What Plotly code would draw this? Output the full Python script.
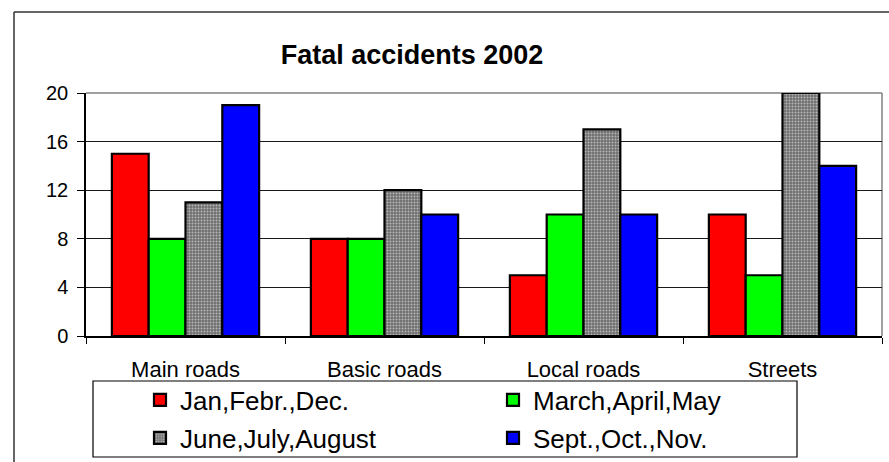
import plotly.graph_objects as go

categories = ["Main roads", "Basic roads", "Local roads", "Streets"]
series_names = ["Jan,Febr.,Dec.", "March,April,May", "June,July,August", "Sept.,Oct.,Nov."]
jan_feb_dec = [15, 8, 5, 10]
mar_apr_may = [8, 8, 10, 5]
jun_jul_aug = [11, 12, 17, 20]
sep_oct_nov = [19, 10, 10, 14]
y_ticks = [0, 4, 8, 12, 16, 20]

W, H = 889, 462
L, R, T, B = 86, 882, 93, 336  # plot area in px

FONT = "Liberation Sans, Arial, sans-serif"

def px(x):
    return (x - L) / (R - L)

def py(y):
    return (B - y) / (B - T)

fig = go.Figure()
common = dict(marker_line_color="black", marker_line_width=2.2)
fig.add_bar(x=categories, y=jan_feb_dec, name=series_names[0], marker_color="#FF0000", legend="legend", **common)
fig.add_bar(x=categories, y=mar_apr_may, name=series_names[1], marker_color="#00FF00", legend="legend", **common)
fig.add_bar(x=categories, y=jun_jul_aug, name=series_names[2], marker_color="#808080",
            marker_pattern=dict(shape=".", fgcolor="#FFFFFF", bgcolor="#6E6E6E", size=3, solidity=0.35),
            legend="legend2", **common)
fig.add_bar(x=categories, y=sep_oct_nov, name=series_names[3], marker_color="#0000FF", legend="legend2", **common)

legend_common = dict(orientation="h", xref="container", yref="container", xanchor="left", yanchor="middle",
                     bgcolor="rgba(0,0,0,0)", borderwidth=0, entrywidth=308, entrywidthmode="pixels",
                     font=dict(family=FONT, size=26, color="black"), itemclick=False, traceorder="normal")

fig.update_layout(
    width=W, height=H,
    margin=dict(l=L, r=W - R, t=T, b=H - B, pad=0, autoexpand=False),
    paper_bgcolor="white", plot_bgcolor="white",
    barmode="group", bargap=0.26, bargroupgap=0,
    font=dict(family=FONT, size=20, color="black"),
    title=dict(text="<b>Fatal accidents 2002</b>", x=412 / W, xanchor="center", y=1 - 55 / H, yanchor="middle",
               xref="container", yref="container", font=dict(family=FONT, size=27, color="black")),
    xaxis=dict(showgrid=False, showline=True, linecolor="black", linewidth=1.5, ticks="outside",
               tickson="boundaries", ticklen=6, tickcolor="black", tickfont=dict(size=22), ticklabelstandoff=13),
    yaxis=dict(range=[0, 20], tickvals=y_ticks, showgrid=True, gridcolor="#1a1a1a", gridwidth=1,
               showline=True, linecolor="black", linewidth=1.5, ticks="outside", ticklen=7, tickcolor="black",
               tickfont=dict(size=20), zeroline=False, ticklabelstandoff=5),
    legend=dict(x=140 / W, y=1 - 400 / H, **legend_common),
    legend2=dict(x=140 / W, y=1 - 438 / H, **legend_common),
    showlegend=True,
)

# plot-area border (gray top/right)
fig.add_shape(type="line", xref="paper", yref="paper", x0=0, x1=1, y0=1, y1=1, line=dict(color="#808080", width=1.5), layer="below")
fig.add_shape(type="line", xref="paper", yref="paper", x0=1, x1=1, y0=0, y1=1, line=dict(color="#808080", width=1.5), layer="below")

# legend box
fig.add_shape(type="rect", xref="paper", yref="paper", x0=px(93), x1=px(797), y0=py(381), y1=py(457),
              line=dict(color="black", width=1.2), fillcolor="rgba(0,0,0,0)")

# outer chart frame (top and left edges visible)
fig.add_shape(type="line", xref="paper", yref="paper", x0=px(14), x1=px(889), y0=py(12), y1=py(12), line=dict(color="#333", width=1.5))
fig.add_shape(type="line", xref="paper", yref="paper", x0=px(14), x1=px(14), y0=py(12), y1=py(462), line=dict(color="#333", width=1.5))

fig.write_html("out.html", config={"displayModeBar": False},
               post_script="document.body.style.margin='0';document.body.style.overflow='hidden';")
